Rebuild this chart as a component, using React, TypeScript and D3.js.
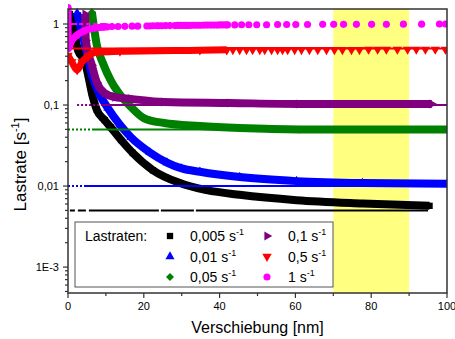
import React from "react";
import * as d3 from "d3";

const W = 455;
const H = 339;

// ---- axes ----
const xTicks = [0, 20, 40, 60, 80, 100];
const xMinorTicks = [10, 30, 50, 70, 90];
const yTicks = [1e-3, 1e-2, 1e-1, 1];
const yTickLabels = ["1E-3", "0,01", "0,1", "1"];
const highlightRange = [70, 90];

// ---- legend ----
const rateLabels = ["0,005", "0,01", "0,05", "0,1", "0,5", "1"];

// ---- nominal rate lines ----
const nominalRates = [0.005, 0.01, 0.05, 0.1, 0.5, 1];
const nominalStart = [0.5, 0, 0, 2.4, 1, 0.3];
const nominalEnd = [95, 100, 100, 100, 100, 10];

// ---- measured curves (displacement nm, rate 1/s) ----
const x0005 = [0.5, 1.5, 2.6, 4.5, 5.3, 6.3, 7.6, 9.7, 11.3, 14, 17.1, 22.4, 29.5, 36.6, 45.3, 60.3, 77.7, 95.4];
const y0005 = [1.33, 0.9, 0.48, 0.34, 0.235, 0.14, 0.087, 0.065, 0.053, 0.037, 0.0256, 0.0157, 0.0109, 0.0089, 0.0078, 0.0067, 0.0061, 0.0057];

const x001 = [2.4, 4.5, 6.3, 8.4, 10.5, 13.7, 16.6, 21.6, 26.1, 30, 34.8, 45.3, 60.3, 77.7, 100];
const y001 = [1.37, 0.55, 0.235, 0.133, 0.092, 0.057, 0.04, 0.026, 0.0195, 0.0165, 0.015, 0.0129, 0.0115, 0.0109, 0.0107];

const x005 = [6.3, 7.6, 9.2, 11.3, 13.4, 16.6, 20, 25.3, 34.8, 45.3, 61, 100];
const y005 = [1.4, 0.55, 0.33, 0.2, 0.14, 0.095, 0.069, 0.06, 0.055, 0.052, 0.05, 0.05];

const x01 = [4.5, 4.7, 6.3, 7.6, 9.7, 12.4, 16.6, 25.3, 42.7, 61, 96];
const y01 = [1.33, 0.63, 0.31, 0.19, 0.14, 0.125, 0.119, 0.109, 0.106, 0.103, 0.103];

const x05 = [0, 1, 2.4, 3.7, 5.3, 7.6, 13.7, 34.8, 41.9];
const y05 = [0.41, 0.34, 0.27, 0.34, 0.4, 0.45, 0.46, 0.475, 0.48];
const x05Dots = [41.9, 43.5, 45.3, 47.1, 48.7, 50.6, 51.9, 53.7, 55.3, 56.6, 57.95, 59.8, 61.6, 63.7, 65.9, 68.2, 70.3, 72.4, 74.8, 76.9, 79.3, 81.7, 84, 86.9, 89.6, 91.9, 94.3, 96.9, 99.6];
const y05Dots = [0.48, 0.48, 0.48, 0.48, 0.48, 0.48, 0.48, 0.48, 0.48, 0.48, 0.48, 0.48, 0.48, 0.48, 0.48, 0.48, 0.48, 0.48, 0.48, 0.48, 0.485, 0.485, 0.485, 0.485, 0.485, 0.485, 0.485, 0.485, 0.485];

const x1 = [0, 0.1, 0.8, 2.1, 4.2, 7.1, 9.7];
const y1 = [1.6, 0.5, 0.6, 0.71, 0.82, 0.89, 0.92];
const x1Dots = [9, 10.3, 11.6, 13.2, 15, 16.9, 18.4, 20.8, 21.6, 22.4, 23.4, 24, 24.8, 25.8, 26.9, 28.2, 29, 29.8, 30.6, 31.3, 32.1, 32.9, 33.7, 34.5, 35.3, 36.1, 36.9, 37.7, 38.5, 39.3, 40, 40.8, 41.6, 42.1, 44, 45.8, 47.7, 49.8, 52.4, 55.3, 57.7, 60.1, 63.2, 67.2, 70.1, 72.7, 76.1, 80.1, 84, 88.5, 93.3, 98, 99.6];
const y1Dots = [0.92, 0.92, 0.93, 0.93, 0.935, 0.94, 0.94, 0.945, 0.945, 0.95, 0.95, 0.95, 0.95, 0.955, 0.955, 0.955, 0.96, 0.96, 0.96, 0.96, 0.96, 0.965, 0.965, 0.965, 0.965, 0.97, 0.97, 0.97, 0.97, 0.97, 0.975, 0.975, 0.975, 0.975, 0.975, 0.98, 0.98, 0.98, 0.98, 0.985, 0.985, 0.985, 0.985, 0.99, 0.99, 0.99, 0.99, 0.99, 0.99, 0.995, 0.995, 1.0, 1.0];

// ---- styles ----
const colors = ["#000000", "#0000ff", "#008000", "#800080", "#ff0000", "#ff00ff"];
const bandWidths = [8, 8, 8, 8, 7, 7];
const nominalDash = ["5,3,8,3,70,2,33,2,1000", "2,2,2,2,2,2,2,2,1000", "2,2,2,2,2,2,2,2,2,2,2,2,1000", "2,2,2,2,2,2,2,2,2,2,2,2,1000", "1000", "8,2,4,3,4,3,4,3,1000"];

const margin = { left: 68, right: 447, top: 9, bottom: 293 };
const xScale = d3.scaleLinear().domain([0, 100]).range([margin.left, margin.right]);
const yScale = d3.scaleLog().domain([Math.pow(10, -3.32), Math.pow(10, 0.185)]).range([margin.bottom, margin.top]);

type Shape = "square" | "up" | "diamond" | "right" | "down" | "circle";
const shapes: Shape[] = ["square", "up", "diamond", "right", "down", "circle"];

function markerPath(shape: Shape): { d: string; rot: number } {
  switch (shape) {
    case "square":
      return { d: d3.symbol().type(d3.symbolSquare).size(40)() as string, rot: 0 };
    case "up":
      return { d: d3.symbol().type(d3.symbolTriangle).size(36)() as string, rot: 0 };
    case "diamond":
      return { d: d3.symbol().type(d3.symbolSquare).size(32)() as string, rot: 45 };
    case "right":
      return { d: d3.symbol().type(d3.symbolTriangle).size(36)() as string, rot: 90 };
    case "down":
      return { d: d3.symbol().type(d3.symbolTriangle).size(38)() as string, rot: 180 };
    default:
      return { d: d3.symbol().type(d3.symbolCircle).size(40)() as string, rot: 0 };
  }
}

function Marker({ cx, cy, shape, color }: { cx: number; cy: number; shape: Shape; color: string }) {
  const m = markerPath(shape);
  return <path d={m.d} transform={`translate(${cx},${cy}) rotate(${m.rot})`} fill={color} />;
}

const curveXs = [x0005, x001, x005, x01, x05, x1];
const curveYs = [y0005, y001, y005, y01, y05, y1];
const dotXs: (number[] | null)[] = [null, null, null, null, x05Dots, x1Dots];
const dotYs: (number[] | null)[] = [null, null, null, null, y05Dots, y1Dots];

export default function App() {
  const line = d3
    .line<[number, number]>()
    .x((d) => xScale(d[0]))
    .y((d) => yScale(d[1]))
    .curve(d3.curveMonotoneX);

  const minorY: number[] = [];
  for (let e = -4; e <= 0; e++) {
    for (let m = 2; m <= 9; m++) {
      const v = m * Math.pow(10, e);
      const [lo, hi] = yScale.domain();
      if (v >= lo && v <= hi) minorY.push(v);
    }
  }

  const font = "'Liberation Sans', Arial, sans-serif";
  const axisColor = "#333";

  const legendItems = rateLabels.map((lab, i) => {
    const col = i < 3 ? 0 : 1;
    const row = i % 3;
    const mx = col === 0 ? 170 : 267;
    const tx = col === 0 ? 190 : 288;
    const cy = 236 + row * 20.5;
    return (
      <g key={lab}>
        <Marker cx={mx} cy={cy} shape={shapes[i]} color={colors[i]} />
        <text x={tx} y={cy + 5} fontSize={14} fontFamily={font} fill="#000">
          {lab} s
          <tspan fontSize={9} dy={-6}>-1</tspan>
        </text>
      </g>
    );
  });

  return (
    <svg width={W} height={H} style={{ position: "absolute", left: 0, top: 0, background: "#fff" }}>
      <defs>
        <clipPath id="plotClip">
          <rect x={margin.left} y={3} width={margin.right - margin.left} height={margin.bottom - 3} />
        </clipPath>
      </defs>
      <rect x={0} y={0} width={W} height={H} fill="#fff" />
      {/* highlight band */}
      <rect
        x={xScale(highlightRange[0])}
        y={margin.top}
        width={xScale(highlightRange[1]) - xScale(highlightRange[0])}
        height={margin.bottom - margin.top}
        fill="#ffff80"
      />

      <g clipPath="url(#plotClip)">
        {curveXs.map((xs, i) => {
          const pts: [number, number][] = xs.map((xv, j) => [xv, curveYs[i][j]]);
          const dx = dotXs[i];
          const dy = dotYs[i];
          const shape = shapes[i];
          return (
            <g key={i}>
              <path d={line(pts) as string} fill="none" stroke={colors[i]} strokeWidth={bandWidths[i]} strokeLinejoin="round" />
              {pts.map((p, j) => (
                <Marker key={j} cx={xScale(p[0])} cy={yScale(p[1])} shape={shape} color={colors[i]} />
              ))}
              {dx &&
                dy &&
                dx.map((xv, j) => (
                  <Marker key={"d" + j} cx={xScale(xv)} cy={yScale(dy[j])} shape={shape} color={colors[i]} />
                ))}
            </g>
          );
        })}
        {nominalRates.map((r, i) => (
          <line
            key={"n" + i}
            x1={xScale(nominalStart[i])}
            x2={xScale(nominalEnd[i])}
            y1={yScale(r)}
            y2={yScale(r)}
            stroke={colors[i]}
            strokeWidth={2}
            strokeDasharray={nominalDash[i]}
          />
        ))}
      </g>

      {/* frame */}
      <rect
        x={margin.left}
        y={margin.top}
        width={margin.right - margin.left}
        height={margin.bottom - margin.top}
        fill="none"
        stroke={axisColor}
        strokeWidth={1.5}
      />

      {/* x axis ticks */}
      {xTicks.map((t) => (
        <g key={"xt" + t}>
          <line x1={xScale(t)} x2={xScale(t)} y1={margin.bottom} y2={margin.bottom + 5} stroke={axisColor} strokeWidth={1.2} />
          <text x={xScale(t)} y={310} fontSize={11} fontFamily={font} textAnchor="middle" fill="#000">
            {t}
          </text>
        </g>
      ))}
      {xMinorTicks.map((t) => (
        <line key={"xm" + t} x1={xScale(t)} x2={xScale(t)} y1={margin.bottom} y2={margin.bottom + 3} stroke={axisColor} strokeWidth={1.2} />
      ))}

      {/* y axis ticks */}
      {yTicks.map((t, i) => (
        <g key={"yt" + t}>
          <line x1={margin.left - 5} x2={margin.left} y1={yScale(t)} y2={yScale(t)} stroke={axisColor} strokeWidth={1.2} />
          <text x={59} y={yScale(t) + 4} fontSize={11} fontFamily={font} textAnchor="end" fill="#000">
            {yTickLabels[i]}
          </text>
        </g>
      ))}
      {minorY.map((t) => (
        <line key={"ym" + t} x1={margin.left - 3} x2={margin.left} y1={yScale(t)} y2={yScale(t)} stroke={axisColor} strokeWidth={1.2} />
      ))}

      {/* legend */}
      <rect x={75} y={222} width={258} height={65} fill="#fff" stroke="#555" strokeWidth={1} />
      <text x={85} y={241} fontSize={14} fontFamily={font} fill="#000">
        Lastraten:
      </text>
      {legendItems}

      {/* axis titles */}
      <text x={(margin.left + margin.right) / 2} y={333} fontSize={16} fontFamily={font} textAnchor="middle" fill="#000">
        Verschiebung [nm]
      </text>
      <text
        transform={`translate(26,${164.5}) rotate(-90)`}
        fontSize={17}
        fontFamily={font}
        textAnchor="middle"
        fill="#000"
      >
        Lastrate [s
        <tspan fontSize={11} dy={-7}>-1</tspan>
        <tspan dy={7}>]</tspan>
      </text>
    </svg>
  );
}
